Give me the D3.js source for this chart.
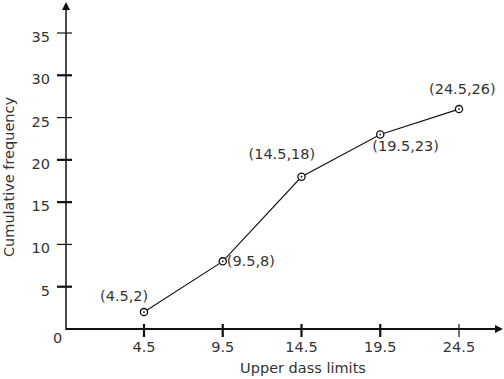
<!DOCTYPE html>
<html><head><meta charset="utf-8">
<script src="https://cdn.jsdelivr.net/npm/d3@7"></script>
<style>
html,body{margin:0;padding:0;background:#fff;}
svg text{font-family:"DejaVu Sans",Verdana,sans-serif;fill:#333;}
</style></head>
<body><svg id="c" width="504" height="379"></svg>
<script>
const upperLimits = [4.5, 9.5, 14.5, 19.5, 24.5];
const cumFreq = [2, 8, 18, 23, 26];
const xTickLabels = ["4.5", "9.5", "14.5", "19.5", "24.5"];
const yTickValues = [5, 10, 15, 20, 25, 30, 35];
const pointLabels = ["(4.5,2)", "(9.5,8)", "(14.5,18)", "(19.5,23)", "(24.5,26)"];
const labelOffsets = [[-44,-11],[4,5],[-53,-18],[-8,17],[-30,-15]];
const thickY = [5, 15, 20, 30];

const svg = d3.select("#c");
const x = d3.scaleLinear().domain([4.5, 24.5]).range([144, 459]);
const y = d3.scaleLinear().domain([0, 35]).range([329, 33]);
const ox = 66, oy = 329;
const fs = "14.5px";

// axes lines
svg.append("line").attr("x1", ox).attr("x2", ox).attr("y1", oy+1).attr("y2", 8)
  .attr("stroke", "#111").attr("stroke-width", 1.5);
svg.append("path").attr("d", `M${ox},2 L${ox-4},10 L${ox+4},10 Z`).attr("fill", "#111");
svg.append("line").attr("x1", ox).attr("x2", 496).attr("y1", oy).attr("y2", oy)
  .attr("stroke", "#111").attr("stroke-width", 2.2);
svg.append("path").attr("d", `M503,${oy} L495,${oy-4} L495,${oy+4} Z`).attr("fill", "#111");

// y ticks
yTickValues.forEach(v => {
  svg.append("line").attr("x1", 57).attr("x2", 72).attr("y1", y(v)).attr("y2", y(v))
    .attr("stroke", "#111").attr("stroke-width", thickY.includes(v) ? 2.2 : 1.2);
  svg.append("text").attr("x", 50).attr("y", y(v) + 9).attr("text-anchor", "end")
    .style("font-size", fs).text(v);
});
svg.append("text").attr("x", 53).attr("y", 343).style("font-size", fs).text("0");

// x ticks
upperLimits.forEach((v, i) => {
  svg.append("line").attr("x1", x(v)).attr("x2", x(v)).attr("y1", 324).attr("y2", 337)
    .attr("stroke", "#111").attr("stroke-width", i === 4 ? 1.2 : 2.2);
  svg.append("text").attr("x", x(v)).attr("y", 352).attr("text-anchor", "middle")
    .style("font-size", fs).text(xTickLabels[i]);
});

// titles
svg.append("text").attr("x", 303).attr("y", 373).attr("text-anchor", "middle")
  .style("font-size", fs).text("Upper dass limits");
svg.append("text").attr("transform", "translate(14,177) rotate(-90)").attr("text-anchor", "middle")
  .style("font-size", fs).text("Cumulative frequency");

// line
const pts = upperLimits.map((v, i) => [x(v), y(cumFreq[i])]);
svg.append("path").attr("d", d3.line()(pts)).attr("fill", "none")
  .attr("stroke", "#111").attr("stroke-width", 1.1);
pts.forEach((p, i) => {
  svg.append("circle").attr("cx", p[0]).attr("cy", p[1]).attr("r", 3.6)
    .attr("fill", "#fff").attr("stroke", "#111").attr("stroke-width", 1.3);
  svg.append("circle").attr("cx", p[0]).attr("cy", p[1]).attr("r", 0.9).attr("fill", "#111");
  svg.append("text").attr("x", p[0] + labelOffsets[i][0]).attr("y", p[1] + labelOffsets[i][1])
    .style("font-size", fs).text(pointLabels[i]);
});
</script></body></html>
